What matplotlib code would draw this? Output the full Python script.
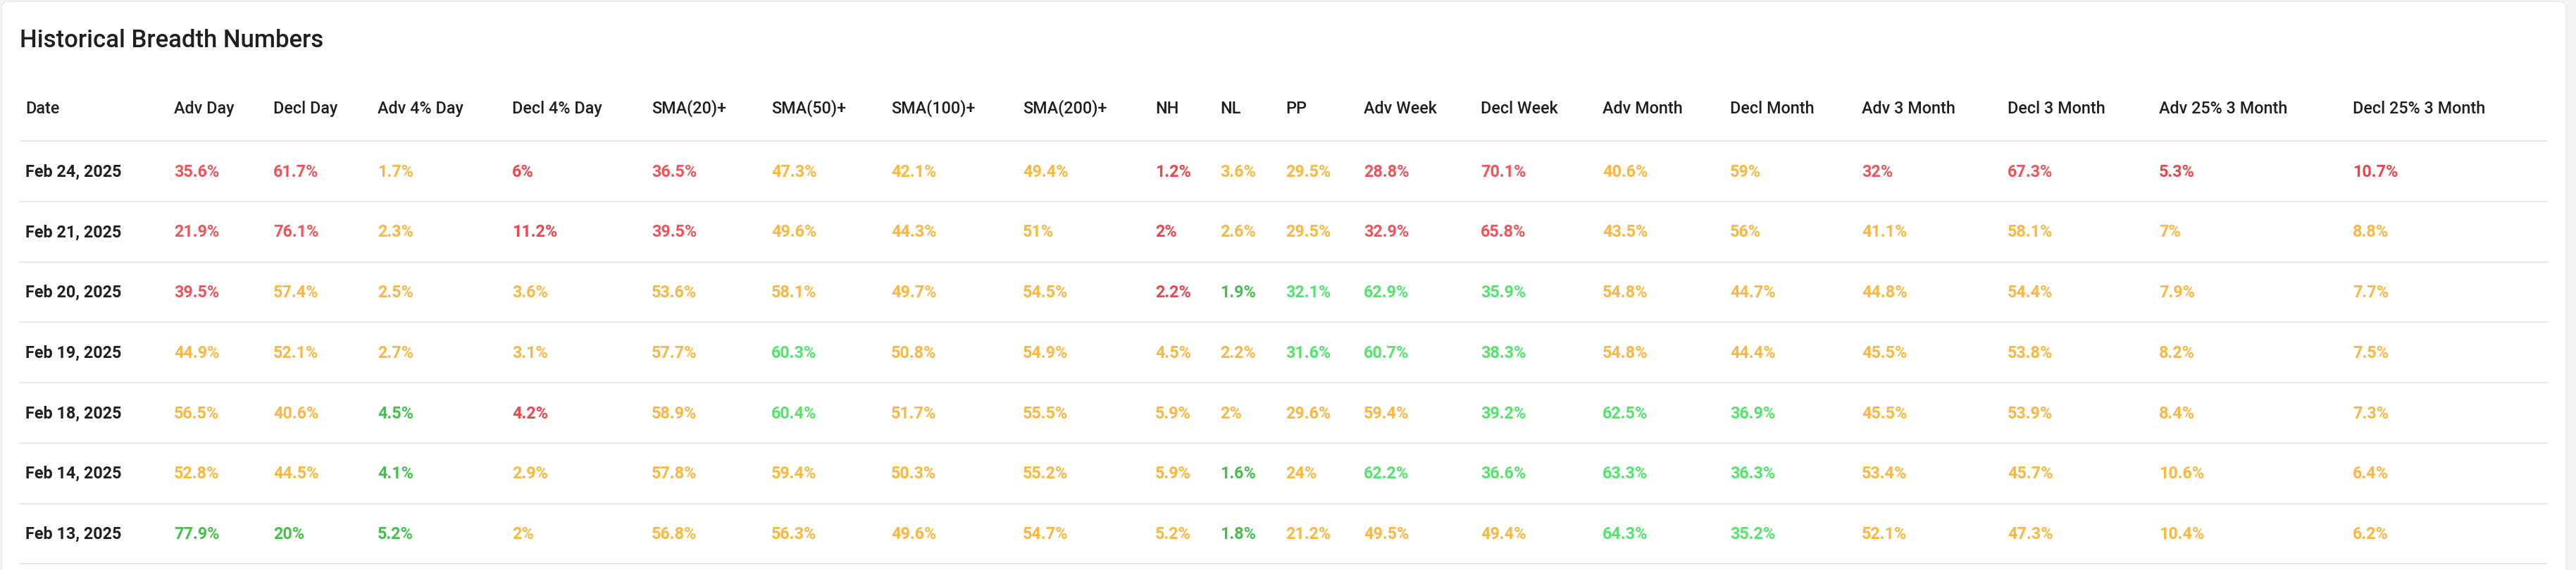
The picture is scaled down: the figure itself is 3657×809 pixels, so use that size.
import matplotlib.pyplot as plt
from matplotlib.patches import FancyBboxPatch

W, H = 3657, 809

# ---- data ----
dates = ["Feb 24, 2025", "Feb 21, 2025", "Feb 20, 2025", "Feb 19, 2025",
         "Feb 18, 2025", "Feb 14, 2025", "Feb 13, 2025"]

columns = ["Adv Day", "Decl Day", "Adv 4% Day", "Decl 4% Day", "SMA(20)+", "SMA(50)+",
           "SMA(100)+", "SMA(200)+", "NH", "NL", "PP", "Adv Week", "Decl Week",
           "Adv Month", "Decl Month", "Adv 3 Month", "Decl 3 Month",
           "Adv 25% 3 Month", "Decl 25% 3 Month"]

adv_day = [35.6, 21.9, 39.5, 44.9, 56.5, 52.8, 77.9]
decl_day = [61.7, 76.1, 57.4, 52.1, 40.6, 44.5, 20]
adv_4_day = [1.7, 2.3, 2.5, 2.7, 4.5, 4.1, 5.2]
decl_4_day = [6, 11.2, 3.6, 3.1, 4.2, 2.9, 2]
sma20 = [36.5, 39.5, 53.6, 57.7, 58.9, 57.8, 56.8]
sma50 = [47.3, 49.6, 58.1, 60.3, 60.4, 59.4, 56.3]
sma100 = [42.1, 44.3, 49.7, 50.8, 51.7, 50.3, 49.6]
sma200 = [49.4, 51, 54.5, 54.9, 55.5, 55.2, 54.7]
nh = [1.2, 2, 2.2, 4.5, 5.9, 5.9, 5.2]
nl = [3.6, 2.6, 1.9, 2.2, 2, 1.6, 1.8]
pp = [29.5, 29.5, 32.1, 31.6, 29.6, 24, 21.2]
adv_week = [28.8, 32.9, 62.9, 60.7, 59.4, 62.2, 49.5]
decl_week = [70.1, 65.8, 35.9, 38.3, 39.2, 36.6, 49.4]
adv_month = [40.6, 43.5, 54.8, 54.8, 62.5, 63.3, 64.3]
decl_month = [59, 56, 44.7, 44.4, 36.9, 36.3, 35.2]
adv_3m = [32, 41.1, 44.8, 45.5, 45.5, 53.4, 52.1]
decl_3m = [67.3, 58.1, 54.4, 53.8, 53.9, 45.7, 47.3]
adv_25_3m = [5.3, 7, 7.9, 8.2, 8.4, 10.6, 10.4]
decl_25_3m = [10.7, 8.8, 7.7, 7.5, 7.3, 6.4, 6.2]

values = [adv_day, decl_day, adv_4_day, decl_4_day, sma20, sma50, sma100, sma200,
          nh, nl, pp, adv_week, decl_week, adv_month, decl_month, adv_3m, decl_3m,
          adv_25_3m, decl_25_3m]

# signal per cell, one string per column (rows top->bottom): r = weak, o = neutral, g = strong
signals = ["rrrooog", "rroooog", "ooooggg", "rroorooo"[:7],
           "rrooooo", "oooggoo", "ooooooo", "ooooooo",
           "rrroooo", "oogoogg", "ooggooo",
           "rrggogo", "rrggggo", "ooooggg", "ooooggg",
           "roooooo", "roooooo", "roooooo", "roooooo"]

# ---- style ----
RED = "#f2525a"
RED_DARK = "#f0434b"
ORANGE = "#fbb73f"
GREEN_DARK = "#45c04c"
GREEN_LIGHT = "#52e56b"
TEXT = "#1f1f1f"
LINE = "#e2e2e2"

dark_green_cols = {"Adv Day", "Decl Day", "Adv 4% Day", "Decl 4% Day", "NH", "NL"}
dark_red_cols = {"NH", "Decl 4% Day", "Adv 25% 3 Month", "Decl 25% 3 Month"}

date_x = 36
col_x = [247, 388, 536, 727, 925, 1095, 1265, 1452, 1640, 1732, 1825,
         1936, 2102, 2275, 2456, 2643, 2850, 3065, 3340]

header_base = 160.7
row0_base = 250.7
row_h = 85.71
line0 = 200.3
FS = 16.8

plt.rcParams["font.family"] = ["Roboto", "DejaVu Sans"]

fig = plt.figure(figsize=(W / 100, H / 100), dpi=100)
fig.patch.set_facecolor("#f4f4f4")
ax = fig.add_axes([0, 0, 1, 1])
ax.set_xlim(0, W)
ax.set_ylim(H, 0)
ax.axis("off")

# white card with rounded corners
card = FancyBboxPatch((2, 2), 3641, H + 40, boxstyle="round,pad=0,rounding_size=10",
                      facecolor="white", edgecolor="#e9e9e9", linewidth=1)
ax.add_patch(card)

ax.text(28, 66.7, "Historical Breadth Numbers", fontsize=25, color=TEXT,
        fontweight="medium", va="baseline", ha="left")

ax.text(date_x, header_base, "Date", fontsize=FS, color=TEXT,
        fontweight="medium", va="baseline")
for name, x in zip(columns, col_x):
    ax.text(x, header_base, name, fontsize=FS, color=TEXT,
            fontweight="medium", va="baseline")

for k in range(len(dates) + 1):
    y = line0 + k * row_h
    ax.plot([27, 3617], [y, y], color=LINE, linewidth=1.1, solid_capstyle="butt")

for i, d in enumerate(dates):
    yb = row0_base + i * row_h
    ax.text(date_x, yb, d, fontsize=FS, color=TEXT, fontweight="bold", va="baseline")
    for j, (name, x) in enumerate(zip(columns, col_x)):
        s = signals[j][i]
        if s == "r":
            c = RED_DARK if name in dark_red_cols else RED
        elif s == "g":
            c = GREEN_DARK if name in dark_green_cols else GREEN_LIGHT
        else:
            c = ORANGE
        ax.text(x, yb, f"{values[j][i]:g}%", fontsize=FS, color=c,
                fontweight="bold", va="baseline")

fig.savefig("out.png", dpi=100, facecolor=fig.get_facecolor())
